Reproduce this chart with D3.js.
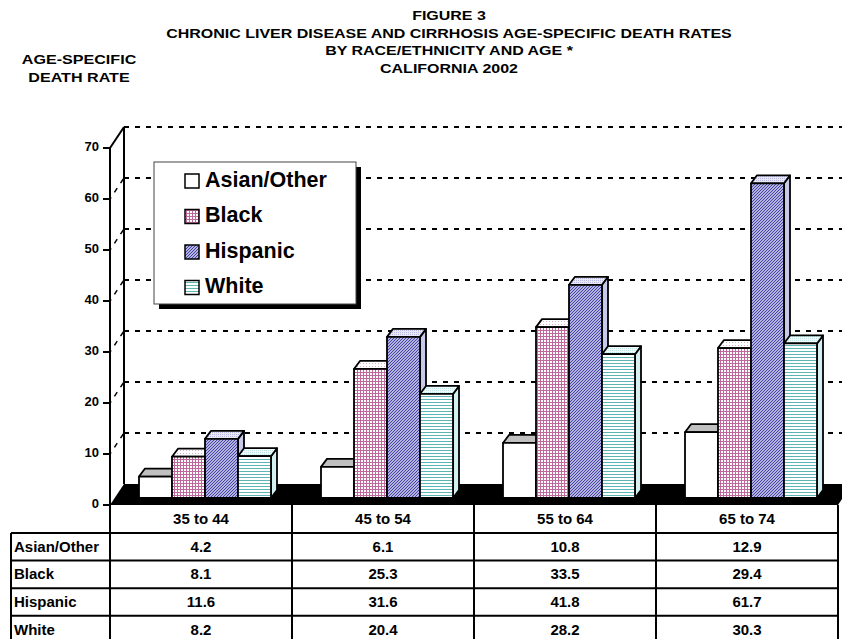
<!DOCTYPE html>
<html><head><meta charset="utf-8">
<script src="https://cdn.jsdelivr.net/npm/d3@7"></script>
<style>body{margin:0;background:#fff}svg{display:block;font-family:"Liberation Sans",Arial,sans-serif;font-weight:bold}</style>
</head><body><svg id="c" width="842" height="639"></svg>
<script>
const categories = ["35 to 44","45 to 54","55 to 64","65 to 74"];
const seriesNames = ["Asian/Other","Black","Hispanic","White"];
const asianOther = [4.2, 6.1, 10.8, 12.9];
const black = [8.1, 25.3, 33.5, 29.4];
const hispanic = [11.6, 31.6, 41.8, 61.7];
const white = [8.2, 20.4, 28.2, 30.3];
const yTicks = [0,10,20,30,40,50,60,70];
const titleLines = ["FIGURE 3","CHRONIC LIVER DISEASE AND CIRRHOSIS AGE-SPECIFIC DEATH RATES","BY RACE/ETHNICITY AND AGE *","CALIFORNIA 2002"];
const yLabelLines = ["AGE-SPECIFIC","DEATH RATE"];

const seriesValues = [asianOther, black, hispanic, white];

const svg = d3.select("#c");
const defs = svg.append("defs");
function pat(id, size, bg, draw){
  const p = defs.append("pattern").attr("id",id).attr("patternUnits","userSpaceOnUse").attr("width",size).attr("height",size);
  p.append("rect").attr("width",size).attr("height",size).attr("fill",bg);
  draw(p);
}
pat("pBlack",3,"#fff",p=>{
  p.append("rect").attr("x",0).attr("y",0).attr("width",3).attr("height",1).attr("fill","#c0679c");
  p.append("rect").attr("x",0).attr("y",0).attr("width",1).attr("height",3).attr("fill","#c0679c");
});
pat("pHisp",3,"#e4e4f6",p=>{
  p.append("path").attr("d","M-1,4 L4,-1 M-1,1 L1,-1 M2,4 L4,2").attr("stroke","#3c3ca4").attr("stroke-width",1.1);
});
pat("pWhite",3,"#fff",p=>{
  p.append("rect").attr("x",0).attr("y",0).attr("width",3).attr("height",1).attr("fill","#5fb5b5");
});
pat("pBlackTop",3,"#fff",p=>{
  p.append("rect").attr("x",0).attr("y",0).attr("width",1).attr("height",1).attr("fill","#e0a8c8");
});
pat("pHispTop",2,"#e8e8f6",p=>{
  p.append("rect").attr("x",0).attr("y",0).attr("width",1).attr("height",1).attr("fill","#b8b8e0");
});
pat("pWhiteTop",2,"#f2fbfb",p=>{
  p.append("rect").attr("x",0).attr("y",0).attr("width",1).attr("height",1).attr("fill","#bfe6e6");
});

const styles = [
  {front:"#fff", top:"#c0c0c0", side:"#a8a8a8"},
  {front:"url(#pBlack)", top:"url(#pBlackTop)", side:"#e6c6d8"},
  {front:"url(#pHisp)", top:"url(#pHispTop)", side:"#c8c8e8"},
  {front:"url(#pWhite)", top:"url(#pWhiteTop)", side:"#d4f0f0"}
];

const x0 = 110, x1 = 838;
const y = d3.scaleLinear().domain([0,70]).range([505,148]);
const DX = 14, DY = -21;
const barShift = -7;
const yb = v => y(v) + barShift;
const BDX = 6, BDY = -8;
const xBand = d3.scaleBand().domain(categories).range([x0,x1]);
const groupW = 132;
const xSeries = d3.scaleBand().domain(seriesNames).range([0,groupW]);
const groupOff = (xBand.bandwidth()-groupW)/2 + 4;

// title (wide lettering, as in the reference)
svg.append("g").selectAll("text").data(titleLines).join("text")
  .attr("transform",(d,i)=>`translate(449,${17+i*17.5}) scale(1.23,1)`).attr("text-anchor","middle").attr("dominant-baseline","middle")
  .attr("font-size",13).text(d=>d);
svg.append("g").selectAll("text").data(yLabelLines).join("text")
  .attr("transform",(d,i)=>`translate(79,${61+i*17.5}) scale(1.24,1)`).attr("text-anchor","middle").attr("dominant-baseline","middle")
  .attr("font-size",13).text(d=>d);

const g = svg.append("g");
yTicks.filter(v=>v>0).forEach(v=>{
  g.append("line").attr("x1",x0+DX).attr("x2",842).attr("y1",y(v)+DY).attr("y2",y(v)+DY)
    .attr("stroke","#000").attr("stroke-width",2).attr("stroke-dasharray","5,6");
  if (v<70) g.append("line").attr("x1",x0).attr("y1",y(v)).attr("x2",x0+DX).attr("y2",y(v)+DY)
    .attr("stroke","#000").attr("stroke-width",1.5).attr("stroke-dasharray","5,6").attr("stroke-dashoffset",-8);
});
g.append("line").attr("x1",x0+DX).attr("x2",x0+DX).attr("y1",y(70)+DY).attr("y2",y(0)+DY).attr("stroke","#000").attr("stroke-width",2);
g.append("line").attr("x1",x0).attr("y1",y(70)).attr("x2",x0+DX).attr("y2",y(70)+DY).attr("stroke","#000").attr("stroke-width",2);
g.append("path").attr("d",`M${x0},${y(0)} L${x1},${y(0)} L${x1+DX},${y(0)+DY} L${x0+DX},${y(0)+DY} Z`).attr("fill","#000");

const bars = svg.append("g");
categories.forEach((c,ci)=>{
  seriesNames.forEach((s,si)=>{
    const v = seriesValues[si][ci];
    const bx = xBand(c)+groupOff+xSeries(s), bw = xSeries.bandwidth();
    const top = yb(v), bot = yb(0);
    const st = styles[si];
    const bg = bars.append("g").attr("stroke","#000").attr("stroke-width",1.8).attr("stroke-linejoin","round");
    bg.append("path").attr("d",`M${bx+bw},${bot} L${bx+bw+BDX},${bot+BDY} L${bx+bw+BDX},${top+BDY} L${bx+bw},${top} Z`).attr("fill",st.side);
    bg.append("path").attr("d",`M${bx},${top} L${bx+BDX},${top+BDY} L${bx+bw+BDX},${top+BDY} L${bx+bw},${top} Z`).attr("fill",st.top);
    bg.append("rect").attr("x",bx).attr("y",top).attr("width",bw).attr("height",bot-top).attr("fill",st.front);
  });
});

const ax = svg.append("g");
ax.append("line").attr("x1",x0).attr("x2",x0).attr("y1",y(70)).attr("y2",639).attr("stroke","#000").attr("stroke-width",2);
ax.selectAll(".t").data(yTicks).join("line").attr("x1",x0-7).attr("x2",x0).attr("y1",d=>y(d)).attr("y2",d=>y(d)).attr("stroke","#000").attr("stroke-width",2);
ax.selectAll("text").data(yTicks).join("text").attr("x",x0-11).attr("y",d=>y(d)).attr("text-anchor","end")
  .attr("dominant-baseline","middle").attr("font-size",13).text(d=>d);

const lg = svg.append("g");
lg.append("rect").attr("x",159).attr("y",167).attr("width",202).attr("height",142).attr("fill","#000");
lg.append("rect").attr("x",154).attr("y",162).attr("width",202).attr("height",142).attr("fill","#fff").attr("stroke","#444").attr("stroke-width",1);
seriesNames.forEach((s,i)=>{
  const cy = 181 + i*35.5;
  lg.append("rect").attr("x",185).attr("y",cy-7).attr("width",14).attr("height",14).attr("fill",styles[i].front).attr("stroke","#000").attr("stroke-width",1.5);
  lg.append("text").attr("x",205).attr("y",cy).attr("dominant-baseline","middle").attr("font-size",21.5).text(s);
});

const tb = svg.append("g");
const rowTop = 533, rowH = 27.6;
const colEdges = categories.map(c=>xBand(c)).concat([x1]);
colEdges.forEach(xe=>tb.append("line").attr("x1",xe).attr("x2",xe).attr("y1",y(0)).attr("y2",639).attr("stroke","#000").attr("stroke-width",2));
tb.append("line").attr("x1",11).attr("x2",11).attr("y1",rowTop).attr("y2",639).attr("stroke","#000").attr("stroke-width",2);
for(let i=0;i<=4;i++){
  tb.append("line").attr("x1",11).attr("x2",x1).attr("y1",rowTop+i*rowH).attr("y2",rowTop+i*rowH).attr("stroke","#000").attr("stroke-width",2);
}
tb.selectAll(".h").data(categories).join("text").attr("x",c=>xBand(c)+xBand.bandwidth()/2).attr("y",(y(0)+rowTop)/2+1)
  .attr("text-anchor","middle").attr("dominant-baseline","middle").attr("font-size",15).text(c=>c);
seriesNames.forEach((s,si)=>{
  const cy = rowTop + si*rowH + rowH/2 + 1;
  tb.append("text").attr("x",14).attr("y",cy).attr("dominant-baseline","middle").attr("font-size",15).text(s);
  categories.forEach((c,ci)=>{
    tb.append("text").attr("x",xBand(c)+xBand.bandwidth()/2).attr("y",cy).attr("text-anchor","middle")
      .attr("dominant-baseline","middle").attr("font-size",15).text(seriesValues[si][ci].toFixed(1));
  });
});
</script></body></html>
